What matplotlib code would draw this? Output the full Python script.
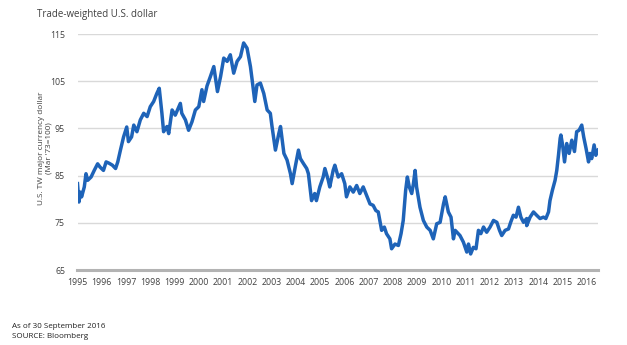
import matplotlib
matplotlib.use("Agg")
import matplotlib.pyplot as plt

# Trade-weighted U.S. dollar index (major currencies, Mar '73 = 100), sampled along the series
dates = [
    1995.00, 1995.06, 1995.12, 1995.17, 1995.28, 1995.35, 1995.42, 1995.56, 1995.69, 1995.83, 1995.93,
    1996.07, 1996.18, 1996.31, 1996.44, 1996.57, 1996.66, 1996.77, 1996.90,
    1997.03, 1997.10, 1997.23, 1997.32, 1997.45, 1997.59, 1997.73, 1997.87,
    1998.00, 1998.14, 1998.27, 1998.37, 1998.48, 1998.55, 1998.69, 1998.76, 1998.90,
    1999.03, 1999.24, 1999.30, 1999.45, 1999.58, 1999.72, 1999.86,
    2000.00, 2000.13, 2000.20, 2000.34, 2000.48, 2000.62, 2000.72, 2000.77, 2000.90,
    2001.03, 2001.17, 2001.30, 2001.44, 2001.58, 2001.72, 2001.85, 2001.99,
    2002.13, 2002.20, 2002.31, 2002.40, 2002.54, 2002.68, 2002.82, 2002.95,
    2003.02, 2003.16, 2003.30, 2003.37, 2003.51, 2003.64, 2003.78, 2003.85, 2003.99,
    2004.11, 2004.19, 2004.31, 2004.45, 2004.52, 2004.65, 2004.78, 2004.85, 2004.99,
    2005.13, 2005.20, 2005.34, 2005.40, 2005.54, 2005.61, 2005.75, 2005.89,
    2006.02, 2006.09, 2006.23, 2006.37, 2006.51, 2006.64, 2006.78, 2006.92,
    2007.06, 2007.19, 2007.30, 2007.40, 2007.54, 2007.65, 2007.74, 2007.88, 2007.95,
    2008.09, 2008.23, 2008.34, 2008.43, 2008.53, 2008.60, 2008.68, 2008.78, 2008.85, 2008.92, 2008.98,
    2009.12, 2009.26, 2009.40, 2009.54, 2009.67, 2009.81, 2009.95,
    2010.09, 2010.16, 2010.29, 2010.40, 2010.50, 2010.57, 2010.77, 2010.91,
    2011.05, 2011.12, 2011.21, 2011.32, 2011.43, 2011.53, 2011.63, 2011.74, 2011.87,
    2012.01, 2012.15, 2012.29, 2012.40, 2012.49, 2012.63, 2012.77, 2012.86, 2012.97,
    2013.08, 2013.18, 2013.28, 2013.39, 2013.52, 2013.52, 2013.66, 2013.80, 2013.93,
    2014.07, 2014.21, 2014.31, 2014.42, 2014.48, 2014.58, 2014.69, 2014.76, 2014.83, 2014.90, 2014.93,
    2015.00, 2015.08, 2015.17, 2015.27, 2015.38, 2015.49, 2015.58, 2015.68, 2015.79, 2015.87, 2015.97,
    2016.07, 2016.13, 2016.20, 2016.30, 2016.37, 2016.46,
]
index_values = [
    83.3, 79.4, 81.5, 80.5, 82.6, 85.4, 84.0, 84.7, 86.1, 87.5, 86.8,
    86.1, 87.9, 87.6, 87.2, 86.5, 87.9, 90.4, 93.2,
    95.3, 92.2, 93.2, 95.7, 94.3, 96.8, 98.2, 97.5,
    99.6, 100.7, 102.4, 103.5, 98.2, 94.3, 95.4, 93.9, 98.9,
    97.8, 100.3, 98.2, 96.8, 94.6, 96.4, 98.9,
    99.6, 103.2, 100.7, 104.0, 106.0, 108.1, 104.5, 102.8, 106.0,
    109.9, 109.2, 110.6, 106.7, 109.2, 110.2, 113.1, 112.0,
    108.1, 105.3, 100.7, 104.2, 104.6, 102.4, 98.9, 98.2,
    95.4, 90.4, 93.9, 95.4, 89.7, 88.3, 85.4, 83.3, 87.2,
    90.4, 88.6, 87.6, 86.5, 85.4, 79.7, 81.2, 79.7, 82.6,
    84.7, 86.5, 84.0, 82.6, 86.1, 87.2, 84.7, 85.4,
    83.3, 80.5, 82.6, 81.5, 82.9, 81.2, 82.6, 80.8,
    79.0, 78.7, 77.6, 77.3, 73.4, 74.1, 72.7, 71.6, 69.5,
    70.5, 70.2, 72.7, 75.5, 81.9, 84.7, 82.6, 81.2, 83.3, 86.1, 82.6,
    78.3, 75.5, 74.1, 73.4, 71.6, 74.8, 75.1,
    79.0, 80.5, 77.3, 76.2, 71.6, 73.4, 72.3, 70.9,
    68.8, 70.5, 68.4, 69.8, 69.5, 73.4, 72.7, 74.1, 73.0,
    74.1, 75.5, 75.1, 73.4, 72.3, 73.4, 73.7, 75.1, 76.6,
    76.2, 78.3, 76.2, 75.1, 75.9, 74.4, 76.2, 77.3, 76.6,
    75.9, 76.2, 75.9, 77.3, 79.7, 81.9, 84.0, 86.1, 89.3, 92.9, 93.6,
    91.5, 87.9, 91.8, 89.7, 92.5, 90.1, 94.3, 94.6, 95.7, 93.2, 90.7,
    87.9, 89.7, 88.6, 91.5, 89.3, 90.4,
]

year_labels = [str(y) for y in range(1995, 2017)]
y_ticks = [65, 75, 85, 95, 105, 115]

FONT = "Open Sans"
TEXT_COLOR = "#404040"

fig = plt.figure(figsize=(6.27, 3.45), dpi=100)
W, H = 627, 345
ax = fig.add_axes([77.5 / W, 1 - 270 / H, (598 - 77.5) / W, (270 - 34) / H])

ax.plot(dates, index_values, color="#1e63b8", linewidth=2.5, solid_joinstyle="round", zorder=3)

ax.set_xlim(1995, 2016.46)
ax.set_ylim(65, 115)
ax.set_yticks(y_ticks)
ax.set_yticklabels([str(v) for v in y_ticks], fontsize=6.3, family=FONT, color=TEXT_COLOR)
ax.set_xticks(range(1995, 2017))
ax.set_xticklabels(year_labels, fontsize=6.3, family=FONT, color=TEXT_COLOR)
ax.tick_params(axis="both", length=0)
ax.tick_params(axis="x", pad=6)
ax.tick_params(axis="y", pad=9)

for v in y_ticks[1:]:
    ax.axhline(v, color="#d9d9d9", linewidth=1.0, zorder=1)

for side in ("top", "right", "left"):
    ax.spines[side].set_visible(False)
ax.spines["bottom"].set_color("#b3b3b3")
ax.spines["bottom"].set_linewidth(2.2)

fig.text(37 / W, 1 - 15 / H, "Trade-weighted U.S. dollar", fontsize=7, family=FONT,
         color="#404040", ha="left", va="center")
fig.text(45 / W, 1 - 148 / H, "U.S. TW major currency dollar\n(Mar '73=100)", fontsize=5.9,
         family=FONT, color=TEXT_COLOR, rotation=90, ha="center", va="center",
         multialignment="center", linespacing=1.1)
fig.text(12 / W, 1 - 327 / H, "As of 30 September 2016", fontsize=5.8, family=FONT,
         color="#202020", ha="left", va="center")
fig.text(12 / W, 1 - 337 / H, "SOURCE: Bloomberg", fontsize=5.8, family=FONT,
         color="#202020", ha="left", va="center")

fig.savefig("out.png", dpi=100, facecolor="white")
